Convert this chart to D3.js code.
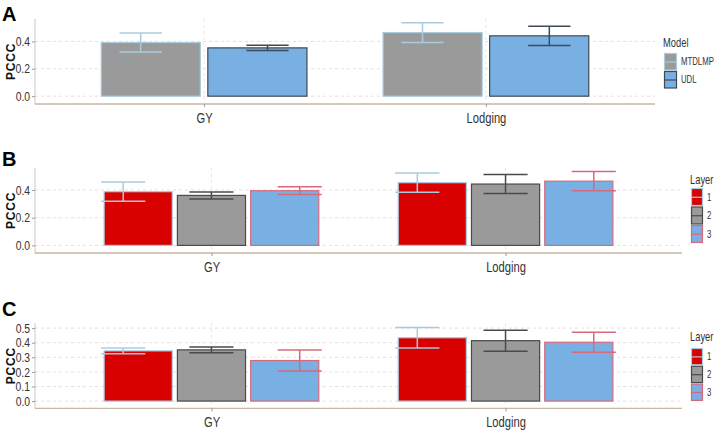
<!DOCTYPE html>
<html>
<head>
<meta charset="utf-8">
<script src="https://cdn.jsdelivr.net/npm/d3@7"></script>
<style>
  body { margin: 0; background: #fff; }
  svg { display: block; }
  .narrow { font-family: "Liberation Sans", Arial, sans-serif; fill: #333; transform-box: fill-box; }
  .n-end { transform-origin: right center; transform: scaleX(0.8); }
  .n-mid { transform-origin: center; transform: scaleX(0.8); }
  .n-start { transform-origin: left center; transform: scaleX(0.78); }
</style>
</head>
<body>
<svg id="chart"></svg>
<script>
const W = 714, H = 432;

// data
const categories = ["GY", "Lodging"];
const models = ["MTDLMP", "UDL"];
const layers = ["1", "2", "3"];

const A_MTDLMP = [0.392, 0.465], A_MTDLMP_err = [0.070, 0.072];
const A_UDL    = [0.353, 0.441], A_UDL_err    = [0.020, 0.070];

const B_L1 = [0.388, 0.453], B_L1_err = [0.070, 0.069];
const B_L2 = [0.361, 0.443], B_L2_err = [0.025, 0.069];
const B_L3 = [0.395, 0.464], B_L3_err = [0.028, 0.069];

const C_L1 = [0.344, 0.434], C_L1_err = [0.020, 0.071];
const C_L2 = [0.351, 0.414], C_L2_err = [0.020, 0.072];
const C_L3 = [0.278, 0.403], C_L3_err = [0.072, 0.068];

const ticksAB = [0, 0.2, 0.4];
const ticksC = [0, 0.1, 0.2, 0.3, 0.4, 0.5];

// fill / outline+errorbar colours
const fillA = ["#9a9a9a", "#78b0e3"];
const lineA = ["#a9cbdf", "#3f4a55"];
const fillL = ["#d90000", "#9a9a9a", "#78b0e3"];
const lineL = ["#a9cbdf", "#4a4a4a", "#d66a7c"];

const svg = d3.select("#chart").attr("width", W).attr("height", H);

function panel(cfg) {
  const g = svg.append("g");
  const y = d3.scaleLinear().domain(cfg.ydom).range([cfg.bottom, cfg.top]);
  const x = d3.scalePoint().domain(categories).range([cfg.left, cfg.right]).padding(0.6);
  const step = x.step();
  const groupW = 0.73 * step;
  const xs = d3.scaleBand().domain(cfg.keys).range([-groupW / 2, groupW / 2]).paddingInner(0.07);
  // errorbars dodge with width 0.9
  const xe = d3.scalePoint().domain(cfg.keys).range([-0.9 * step / 2, 0.9 * step / 2]).padding(0.5);
  const cap = 0.075 * step;

  // grid
  g.selectAll(".hg").data(cfg.ticks).join("line")
    .attr("x1", cfg.left).attr("x2", cfg.right)
    .attr("y1", d => y(d)).attr("y2", d => y(d))
    .attr("stroke", "#eadfd6").attr("stroke-dasharray", "3,3").attr("stroke-width", 1);
  g.selectAll(".vg").data(categories).join("line")
    .attr("x1", d => x(d)).attr("x2", d => x(d))
    .attr("y1", cfg.top).attr("y2", cfg.bottom)
    .attr("stroke", "#eee4dc").attr("stroke-dasharray", "3,3").attr("stroke-width", 1);

  // bars
  cfg.series.forEach((s, k) => {
    const key = cfg.keys[k];
    g.selectAll(".bar" + k).data(categories).join("rect")
      .attr("x", d => x(d) + xs(key))
      .attr("width", xs.bandwidth())
      .attr("y", (d, i) => y(s.v[i]))
      .attr("height", (d, i) => y(0) - y(s.v[i]))
      .attr("fill", cfg.fill[k])
      .attr("stroke", cfg.line[k]).attr("stroke-width", 1.2);
  });
  // errorbars
  cfg.series.forEach((s, k) => {
    const key = cfg.keys[k];
    const eg = g.append("g").attr("stroke", cfg.line[k]).attr("stroke-width", 1.5);
    categories.forEach((c, i) => {
      const cx = x(c) + xe(key);
      const hi = y(s.v[i] + s.e[i]), lo = y(s.v[i] - s.e[i]);
      eg.append("line").attr("x1", cx).attr("x2", cx).attr("y1", hi).attr("y2", lo);
      eg.append("line").attr("x1", cx - cap).attr("x2", cx + cap).attr("y1", hi).attr("y2", hi);
      eg.append("line").attr("x1", cx - cap).attr("x2", cx + cap).attr("y1", lo).attr("y2", lo);
    });
  });

  // axes
  const ya = g.append("g").attr("transform", `translate(${cfg.left},0)`)
    .call(d3.axisLeft(y).tickValues(cfg.ticks).tickFormat(d3.format(".1f")).tickSize(3).tickPadding(2));
  ya.select(".domain").attr("stroke", "#cdc8c0").attr("d", `M0,${cfg.top}V${cfg.bottom + 4}`);
  ya.selectAll(".tick line").attr("stroke", "#999");
  ya.selectAll("text").attr("class", "narrow n-end").style("font-size", "13px").attr("fill", "#333");

  const xa = g.append("g").attr("transform", `translate(0,${cfg.bottom + 4})`)
    .call(d3.axisBottom(x).tickSize(3).tickPadding(6));
  xa.select(".domain").attr("stroke", "#c4b6a2").attr("stroke-width", 1.3)
    .attr("d", `M${cfg.left},0H${cfg.right}`);
  xa.selectAll(".tick line").attr("stroke", "#999");
  xa.selectAll("text").attr("class", "narrow n-mid").style("font-size", "14px").attr("fill", "#333");

  // y title
  g.append("text")
    .attr("transform", `translate(15,${(cfg.top + cfg.bottom + 4) / 2}) rotate(-90)`)
    .attr("text-anchor", "middle")
    .style("font-family", "Liberation Sans, Arial, sans-serif")
    .style("font-weight", "bold").style("font-size", "12px").style("letter-spacing", "0.8px")
    .attr("fill", "#111").text("PCCC");

  // panel letter
  g.append("text").attr("x", 2).attr("y", cfg.letterY)
    .style("font-family", "Liberation Sans, Arial, sans-serif")
    .style("font-weight", "bold").style("font-size", "20px")
    .attr("fill", "#000").text(cfg.letter);

  // legend
  const lg = g.append("g");
  lg.append("text").attr("x", cfg.legX - 1).attr("y", cfg.legTitleY)
    .attr("class", "narrow n-start").style("font-size", "12px").attr("fill", "#222").text(cfg.legTitle);
  cfg.keys.forEach((key, k) => {
    const ky = cfg.legKeyY + k * cfg.legKeyH;
    lg.append("rect").attr("x", cfg.legX + 0.5).attr("y", ky + 0.5)
      .attr("width", cfg.legKeyW).attr("height", cfg.legKeyH - 1.5)
      .attr("fill", cfg.fill[k]).attr("stroke", cfg.line[k]).attr("stroke-width", 1.2);
    lg.append("line").attr("x1", cfg.legX + 0.5).attr("x2", cfg.legX + 0.5 + cfg.legKeyW)
      .attr("y1", ky + cfg.legKeyH / 2).attr("y2", ky + cfg.legKeyH / 2)
      .attr("stroke", cfg.line[k]).attr("stroke-width", 1.2);
    lg.append("text").attr("x", cfg.legX + cfg.legKeyW + 5).attr("y", ky + cfg.legKeyH / 2)
      .attr("dy", "0.35em").attr("class", "narrow n-start").style("font-size", "10px").attr("fill", "#333")
      .text(key);
  });
}

panel({
  letter: "A", letterY: 21,
  left: 35, right: 655, top: 19, bottom: 100,
  ydom: [-0.028, 0.564], ticks: ticksAB,
  keys: models, fill: fillA, line: lineA,
  series: [{ v: A_MTDLMP, e: A_MTDLMP_err }, { v: A_UDL, e: A_UDL_err }],
  legTitle: "Model", legX: 664, legTitleY: 47, legKeyY: 53, legKeyH: 18, legKeyW: 12
});

panel({
  letter: "B", letterY: 166,
  left: 35, right: 682, top: 168, bottom: 249,
  ydom: [-0.026, 0.559], ticks: ticksAB,
  keys: layers, fill: fillL, line: lineL,
  series: [{ v: B_L1, e: B_L1_err }, { v: B_L2, e: B_L2_err }, { v: B_L3, e: B_L3_err }],
  legTitle: "Layer", legX: 691, legTitleY: 184, legKeyY: 188, legKeyH: 18.5, legKeyW: 11
});

panel({
  letter: "C", letterY: 316,
  left: 35, right: 682, top: 323, bottom: 404.3,
  ydom: [-0.022, 0.535], ticks: ticksC,
  keys: layers, fill: fillL, line: lineL,
  series: [{ v: C_L1, e: C_L1_err }, { v: C_L2, e: C_L2_err }, { v: C_L3, e: C_L3_err }],
  legTitle: "Layer", legX: 691, legTitleY: 341, legKeyY: 348, legKeyH: 17.8, legKeyW: 11
});
</script>
</body>
</html>
